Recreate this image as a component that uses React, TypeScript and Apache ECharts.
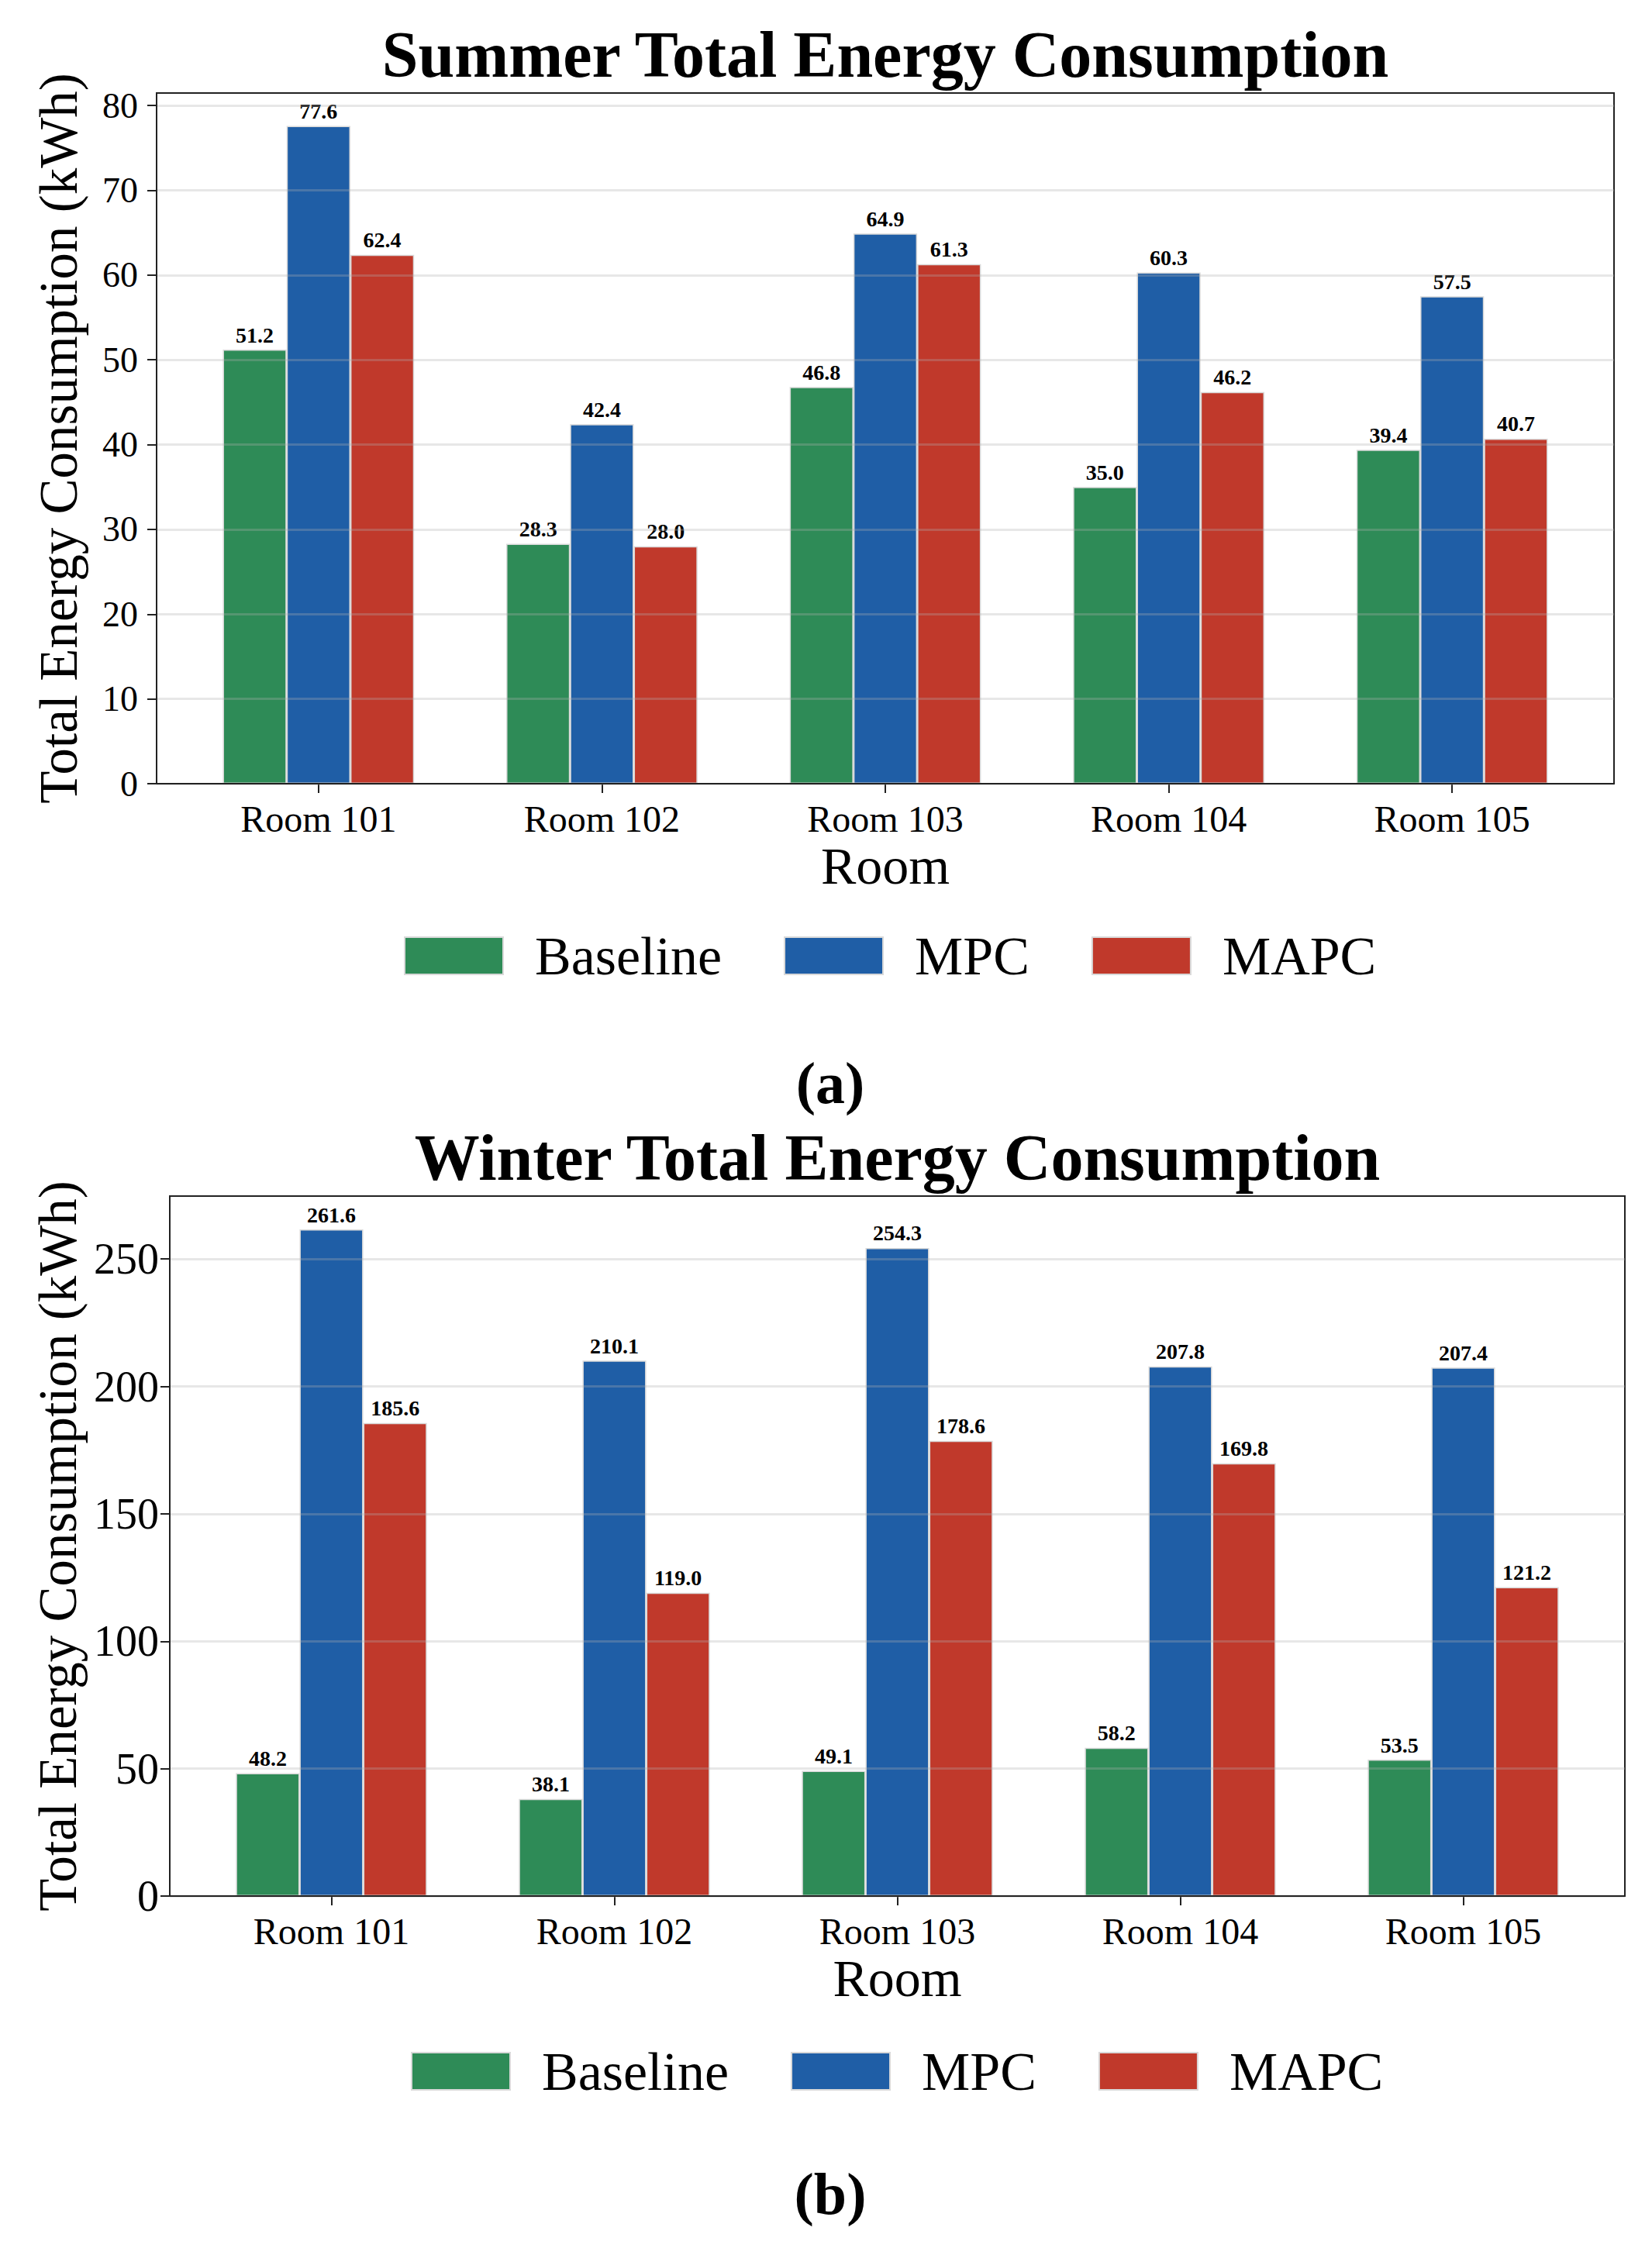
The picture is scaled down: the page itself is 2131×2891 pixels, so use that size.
import React, { useEffect, useRef } from "react";
import * as echarts from "echarts";

// ---------- data ----------
const rooms = ["Room 101", "Room 102", "Room 103", "Room 104", "Room 105"];
const seriesNames = ["Baseline", "MPC", "MAPC"];

const summerBaseline = [51.2, 28.3, 46.8, 35.0, 39.4];
const summerMPC = [77.6, 42.4, 64.9, 60.3, 57.5];
const summerMAPC = [62.4, 28.0, 61.3, 46.2, 40.7];

const winterBaseline = [48.2, 38.1, 49.1, 58.2, 53.5];
const winterMPC = [261.6, 210.1, 254.3, 207.8, 207.4];
const winterMAPC = [185.6, 119.0, 178.6, 169.8, 121.2];

const summerTicks = [0, 10, 20, 30, 40, 50, 60, 70, 80];
const winterTicks = [0, 50, 100, 150, 200, 250];

const summerTitle = "Summer Total Energy Consumption";
const winterTitle = "Winter Total Energy Consumption";
const yName = "Total Energy Consumption (kWh)";
const xName = "Room";

// ---------- style ----------
const FONT = '"Liberation Serif", "Times New Roman", serif';
const COLORS = ["#2e8b57", "#1f5ea6", "#c0392b"];
const BAR_W_UNITS = 0.225;
const HALF_SPAN = 1.5 * BAR_W_UNITS;
const X_MARGIN = 0.05 * (rooms.length - 1 + 2 * HALF_SPAN);
const X_LEFT_EXT = HALF_SPAN + X_MARGIN;
const X_TOTAL = rooms.length - 1 + 2 * X_LEFT_EXT;

type Panel = {
  frame: { left: number; top: number; width: number; height: number };
  data: number[][];
  ticks: number[];
  interval: number;
  yTickFont: number;
  yTickMargin: number;
  yNameGap: number;
  legendLeft: number;
  legendTop: number;
};

function buildPanel(p: Panel, gi: number) {
  const { frame } = p;
  const ppu = frame.width / X_TOTAL;
  const barsLeft = frame.left + (X_LEFT_EXT - 0.5) * ppu;
  const allVals = p.data.flat();
  const yMax = Math.max(...allVals) * 1.05;

  const grids = [
    {
      left: frame.left,
      top: frame.top,
      width: frame.width,
      height: frame.height,
      show: true,
      borderColor: "#222",
      borderWidth: 2,
      backgroundColor: "transparent",
    },
    {
      left: barsLeft,
      top: frame.top,
      width: ppu * rooms.length,
      height: frame.height,
      show: false,
    },
  ];

  const xAxes = [
    {
      type: "value",
      gridIndex: gi,
      min: 0,
      max: 1,
      z: 10,
      axisLine: { show: true, lineStyle: { color: "#222", width: 2 } },
      axisTick: { show: false },
      axisLabel: { show: false },
      splitLine: { show: false },
    },
    {
      type: "category",
      gridIndex: gi + 1,
      data: rooms,
      axisLine: { show: false },
      axisTick: {
        show: true,
        alignWithLabel: true,
        length: 12,
        lineStyle: { color: "#222", width: 2 },
      },
      axisLabel: {
        fontSize: 48,
        fontFamily: FONT,
        color: "#000",
        margin: 21,
      },
      name: xName,
      nameLocation: "middle",
      nameGap: 72,
      nameTextStyle: { fontSize: 68, fontFamily: FONT, color: "#000" },
    },
  ];

  const yAxes = [
    {
      type: "value",
      gridIndex: gi,
      min: 0,
      max: yMax,
      interval: p.interval,
      z: 10,
      axisLine: { show: true, lineStyle: { color: "#222", width: 2 } },
      axisTick: {
        show: true,
        length: 12,
        lineStyle: { color: "#222", width: 2 },
        customValues: p.ticks,
      },
      axisLabel: {
        fontSize: p.yTickFont,
        fontFamily: FONT,
        color: "#000",
        margin: p.yTickMargin,
        customValues: p.ticks,
      },
      splitLine: {
        show: true,
        lineStyle: { color: "rgba(176,176,176,0.3)", width: 3 },
      },
      name: yName,
      nameLocation: "middle",
      nameGap: p.yNameGap,
      nameTextStyle: { fontSize: 69, fontFamily: FONT, color: "#000" },
    },
    {
      type: "value",
      gridIndex: gi + 1,
      min: 0,
      max: yMax,
      show: false,
      splitLine: { show: false },
    },
  ];

  const series = p.data.map((vals, i) => ({
    type: "bar",
    name: seriesNames[i],
    xAxisIndex: gi + 1,
    yAxisIndex: gi + 1,
    data: vals,
    barWidth: BAR_W_UNITS * ppu,
    barGap: "0%",
    itemStyle: { color: COLORS[i], borderColor: "#d9d9d9", borderWidth: 1.5 },
    label: {
      show: true,
      position: "top",
      distance: 5,
      formatter: (q: any) => Number(q.value).toFixed(1),
      fontSize: 28,
      fontWeight: "bold",
      fontFamily: FONT,
      color: "#000",
    },
  }));

  const legend = {
    left: p.legendLeft,
    top: p.legendTop,
    icon: "rect",
    itemWidth: 127,
    itemHeight: 48,
    itemGap: 80,
    selectedMode: false,
    data: seriesNames,
    textStyle: {
      fontSize: 70,
      fontFamily: FONT,
      color: "#000",
      padding: [0, 0, 0, 36],
    },
  };

  return { grids, xAxes, yAxes, series, legend, frame };
}

export default function App() {
  const ref = useRef<HTMLDivElement>(null);

  useEffect(() => {
    if (!ref.current) return;
    const chart = echarts.init(ref.current, undefined, { renderer: "svg" });

    const summer = buildPanel(
      {
        frame: { left: 202, top: 120, width: 1880, height: 891 },
        data: [summerBaseline, summerMPC, summerMAPC],
        ticks: summerTicks,
        interval: 10,
        yTickFont: 46,
        yTickMargin: 24,
        yNameGap: 92,
        legendLeft: 516,
        legendTop: 1193,
      },
      0
    );
    const winter = buildPanel(
      {
        frame: { left: 219, top: 1543, width: 1877, height: 903 },
        data: [winterBaseline, winterMPC, winterMAPC],
        ticks: winterTicks,
        interval: 50,
        yTickFont: 56,
        yTickMargin: 14,
        yNameGap: 110,
        legendLeft: 525,
        legendTop: 2632,
      },
      2
    );

    const titleStyle = (text: string) => ({
      text,
      fontSize: 84,
      fontWeight: "bold",
      fontFamily: FONT,
      fill: "#000",
      align: "center",
      verticalAlign: "middle",
    });
    const capStyle = (text: string) => ({
      text,
      fontSize: 76,
      fontWeight: "bold",
      fontFamily: FONT,
      fill: "#000",
      align: "center",
      verticalAlign: "middle",
    });

    const sf = summer.frame;
    const wf = winter.frame;

    chart.setOption({
      animation: false,
      backgroundColor: "#ffffff",
      grid: [...summer.grids, ...winter.grids],
      xAxis: [...summer.xAxes, ...winter.xAxes],
      yAxis: [...summer.yAxes, ...winter.yAxes],
      series: [...summer.series, ...winter.series],
      legend: [summer.legend, winter.legend],
      graphic: [
        { type: "text", x: sf.left + sf.width / 2, y: 70, style: titleStyle(summerTitle) },
        { type: "text", x: wf.left + wf.width / 2, y: 1493, style: titleStyle(winterTitle) },
        { type: "text", x: 1071, y: 1397, style: capStyle("(a)") },
        { type: "text", x: 1071, y: 2830, style: capStyle("(b)") },
      ],
    });

    return () => chart.dispose();
  }, []);

  return (
    <div
      ref={ref}
      style={{ position: "absolute", left: 0, top: 0, width: 2131, height: 2891, background: "#fff" }}
    />
  );
}
